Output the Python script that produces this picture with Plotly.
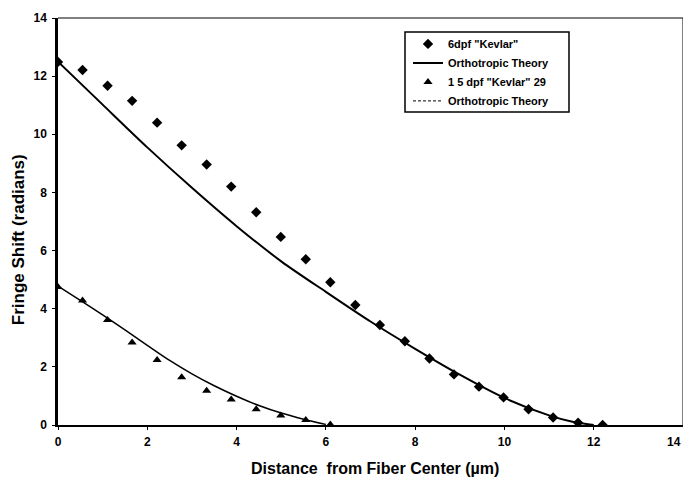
import plotly.graph_objects as go

# 6dpf "Kevlar" measured points
x_a = [0.0, 0.55, 1.11, 1.66, 2.22, 2.77, 3.33, 3.88, 4.44, 4.99, 5.55, 6.10,
       6.66, 7.21, 7.77, 8.32, 8.87, 9.43, 9.98, 10.54, 11.09, 11.65, 12.20]
y_a = [12.49, 12.21, 11.67, 11.15, 10.40, 9.62, 8.96, 8.20, 7.32, 6.47, 5.70, 4.91,
       4.13, 3.44, 2.88, 2.29, 1.74, 1.32, 0.95, 0.54, 0.26, 0.08, 0.0]

# Orthotropic theory (6dpf)
x_ta = [0, 1, 2, 3, 4, 5, 6, 7, 8, 9, 10, 11, 11.5, 12.0]
y_ta = [12.5, 11.02, 9.55, 8.16, 6.84, 5.63, 4.58, 3.56, 2.62, 1.73, 0.93, 0.33, 0.12, 0.0]

# 1 5 dpf "Kevlar" 29 measured points
x_b = [0.0, 0.55, 1.11, 1.66, 2.22, 2.77, 3.33, 3.88, 4.44, 4.99, 5.55, 6.10]
y_b = [4.75, 4.28, 3.61, 2.84, 2.24, 1.64, 1.18, 0.88, 0.54, 0.33, 0.17, 0.02]

# Orthotropic theory (1.5 dpf)
x_tb = [0, 0.5, 1.0, 1.5, 2.0, 2.5, 3.0, 3.5, 4.0, 4.5, 5.0, 5.5, 6.0]
y_tb = [4.78, 4.29, 3.79, 3.27, 2.74, 2.22, 1.76, 1.35, 0.99, 0.67, 0.41, 0.20, 0.02]

x_ticks = [0, 2, 4, 6, 8, 10, 12, 14]
y_ticks = [0, 2, 4, 6, 8, 10, 12, 14]

FONT = "Liberation Sans"
TICKFONT = dict(family=FONT, size=12, weight="bold", color="black")

fig = go.Figure()
fig.add_trace(go.Scatter(x=x_a, y=y_a, mode="markers", name='6dpf "Kevlar"',
                         legendrank=1,
                         marker=dict(symbol="diamond", size=8, color="black")))
fig.add_trace(go.Scatter(x=x_ta, y=y_ta, mode="lines", name="Orthotropic Theory",
                         legendrank=2,
                         line=dict(color="black", width=2, shape="spline", smoothing=0.8)))
fig.add_trace(go.Scatter(x=x_b, y=y_b, mode="markers", name='1 5 dpf "Kevlar" 29',
                         legendrank=3,
                         marker=dict(symbol="triangle-up", size=8, color="black")))
fig.add_trace(go.Scatter(x=x_tb, y=y_tb, mode="lines", name="Orthotropic Theory",
                         showlegend=False,
                         line=dict(color="black", width=1.5, shape="spline", smoothing=0.8)))
# legend entry for the thin theory line (drawn dashed in the legend key)
fig.add_trace(go.Scatter(x=[None], y=[None], mode="lines", name="Orthotropic Theory",
                         legendrank=4,
                         line=dict(color="black", width=1, dash="3px,2px")))

# the last x tick label sits on the right edge; draw it as an annotation so it stays visible
x_ticktext = [str(v) for v in x_ticks[:-1]] + [""]

# page has an 8px body margin, so the figure is 683x470 placed at (8,8)
fig.update_layout(
    width=683, height=470,
    margin=dict(l=50, r=8, t=10, b=53),
    paper_bgcolor="white", plot_bgcolor="white",
    font=dict(family=FONT, color="black", size=11),
    showlegend=True,
    legend=dict(x=0.56, y=0.972, xanchor="left", yanchor="top",
                borderwidth=0, bgcolor="rgba(0,0,0,0)",
                font=dict(family=FONT, size=11, color="black", weight="bold"),
                itemwidth=30, tracegroupgap=0),
    shapes=[
        dict(type="rect", xref="paper", yref="paper", x0=0.5552, x1=0.8176,
             y0=0.769, y1=0.9656, line=dict(color="black", width=1.5)),
        dict(type="line", xref="paper", yref="paper", x0=0, x1=1, y0=1, y1=1,
             line=dict(color="black", width=1)),
        dict(type="line", xref="paper", yref="paper", x0=1, x1=1, y0=0, y1=1,
             line=dict(color="black", width=1)),
    ],
    annotations=[
        dict(text="Distance  from Fiber Center (\u00b5m)", xref="paper", yref="paper",
             x=0.507, y=-0.108, xanchor="center", yanchor="middle", showarrow=False,
             font=dict(family=FONT, size=16, weight="bold", color="black")),
        dict(text="Fringe Shift (radians)", xref="paper", yref="paper",
             x=-0.064, y=0.454, xanchor="center", yanchor="middle", showarrow=False,
             textangle=-90,
             font=dict(family=FONT, size=17, weight="bold", color="black")),
        dict(text=str(x_ticks[-1]), xref="x", yref="paper", x=x_ticks[-1], y=-0.042,
             xanchor="right", yanchor="middle", showarrow=False, font=TICKFONT),
    ],
    xaxis=dict(range=[0, 14], tickvals=x_ticks, ticktext=x_ticktext,
               automargin=False, ticklabeloverflow="allow",
               showgrid=False, zeroline=False, showline=True, linecolor="black",
               linewidth=2, ticks="outside", ticklen=3, tickcolor="black",
               ticklabelstandoff=2, tickfont=TICKFONT),
    yaxis=dict(range=[0, 14], tickvals=y_ticks, ticktext=[str(v) for v in y_ticks],
               automargin=False, ticklabeloverflow="allow",
               showgrid=False, zeroline=False, showline=True, linecolor="black",
               linewidth=2.5, ticks="outside", ticklen=3, tickcolor="black",
               ticklabelstandoff=3, tickfont=TICKFONT),
)

fig.write_html("out.html")
